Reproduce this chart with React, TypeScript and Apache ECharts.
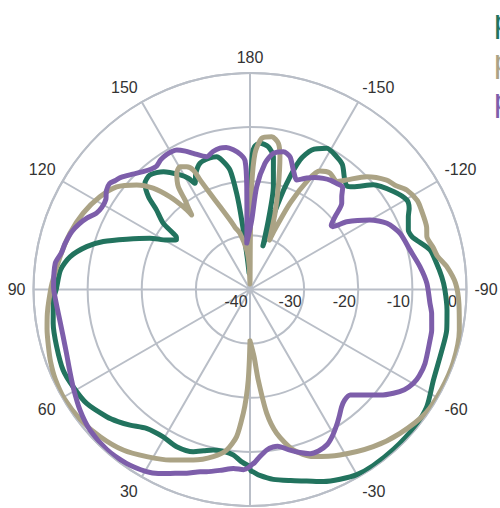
import React, { useEffect, useRef } from 'react';
import * as echarts from 'echarts';

const seriesNames = ['phi = 0°', 'phi = 45°', 'phi = 90°'];
const seriesColors = ['#22735e', '#aba385', '#7d5eaa'];

const angleTicks = [-90, -60, -30, 0, 30, 60, 90, 120, 150, 180, 210, 240, 270];
const radiusTicks = [-40, -30, -20, -10, 0];

// Series 1 (green): angle in degrees, gain in dB
const greenAngles = [0.3, 3, 5.8, 9, 12.9, 16, 19.3, 25, 30.5, 36.7, 41.5, 45, 48.4, 55.1, 61.2, 66.7, 73.5, 80.2, 86.9, 90, 95.9, 100.3, 104.7, 108.1, 112.2, 117.1, 120.7, 124, 125.5, 126.2, 127.4, 130.4, 132.4, 135.3, 138.9, 143.7, 148.6, 151, 152.6, 155, 158.4, 163, 165.9, 167.7, 170.5, 172.1, 173.2, 175, 176.8, 178.5, 180, -179, -178.2, -176.1, -172.7, -170, -167.2, -165.2, -163.5, -162.3, -161, -158.9, -156.1, -151.5, -146.9, -143.5, -139.5, -136.8, -134.9, -130.3, -124.3, -119.7, -117, -114.7, -110.6, -108, -106.5, -102.4, -98, -93.8, -90, -84, -78.4, -72, -63.7, -56.4, -50, -42, -35, -30, -25.4, -21, -16.5, -12, -7, -3, -1, -0.3, 0.3];
const greenDb = [-7.4, -8.2, -9.3, -9.7, -9.6, -9.0, -8.25, -7.95, -8.4, -8.0, -6.55, -5.5, -4.6, -3.2, -2.7, -2.4, -2.75, -3.1, -3.6, -4.2, -4.8, -6.2, -8.8, -11.5, -15.4, -19.2, -22.1, -23.6, -23.3, -22.4, -19.8, -17.3, -14.6, -12.4, -11.9, -13.0, -15.2, -16.5, -17.9, -16.3, -14.9, -14.6, -14.7, -15.5, -17.6, -22.1, -27.1, -34, -37, -30, -22, -15, -13.6, -12.9, -13.4, -15.1, -20.5, -26.7, -31.6, -25, -19.5, -14.35, -11.8, -10.3, -10.7, -11.3, -13.1, -13.8, -13.1, -10.1, -7.9, -6.65, -7.0, -7.8, -8.75, -8.5, -7.9, -5.95, -5.2, -4.5, -4.0, -3.4, -2.9, -2.8, -2.2, -0.8, -0.4, -0.3, -0.3, -0.5, -1.2, -2.0, -3.1, -3.9, -4.65, -5.6, -6.3, -6.5, -7.4];

// Series 2 (khaki)
const khakiAngles = [0, 0.5, 1.1, 2, 3.1, 5.2, 8.3, 12.4, 18.4, 25.1, 31.7, 38.3, 45.5, 52.5, 59.4, 65.3, 70, 74.2, 79, 83.3, 87, 91.8, 99.8, 107.3, 114.6, 121.7, 127.6, 132.7, 136.3, 139.2, 141.1, 142, 143, 144, 145.1, 147.8, 150.3, 152.7, 154.6, 155.5, 157.4, 160.1, 163.9, 166.5, 169.9, 175.2, 178, 179.5, -179.6, -179.1, -177.9, -175.6, -171.9, -169, -167.3, -164.6, -161.8, -159.5, -158.5, -157.5, -155.1, -152, -149.5, -145.5, -141.2, -138.6, -134, -128.7, -125.7, -122.4, -118, -115, -109.4, -106.6, -103, -100, -96.6, -91.7, -86, -79, -70.3, -62.5, -55, -46.2, -38.1, -28.5, -20.7, -15.1, -10.5, -7.7, -5.2, -3.5, -1.5, 0];
const khakiDb = [-30.5, -27, -23.3, -20, -17.1, -12.7, -10.0, -8.4, -6.8, -5.2, -3.7, -2.2, -1.2, -0.5, -0.2, -0.4, -0.8, -1.3, -1.8, -2.3, -2.8, -3.4, -4.4, -5.15, -6.1, -7.4, -8.9, -11.5, -14.1, -17.4, -20.4, -22.5, -21, -19.6, -16.85, -14.6, -13.9, -14.5, -15.6, -17.75, -20.75, -23.7, -26.6, -28.2, -29.45, -32.7, -35.5, -39, -30, -21, -14.8, -12.0, -11.5, -12.5, -14.85, -20.3, -25.2, -29, -30.2, -28, -22.4, -17, -14.6, -13.9, -14.4, -13.0, -10.0, -7.65, -7.0, -5.7, -5.0, -5.1, -5.4, -5.9, -5.3, -4.8, -3.4, -2.0, -1.3, -0.6, -0.1, -0.1, -0.3, -1.6, -3.1, -5.2, -7.0, -9.3, -13, -16.9, -23.2, -27.5, -29.5, -30.5];

// Series 3 (purple)
const purpleAngles = [0, 2, 5.3, 9, 13.4, 15.3, 19, 23.5, 26.5, 29.6, 35.4, 41.8, 48.7, 54.7, 61.2, 66, 70.8, 76, 80.9, 86, 90.8, 97.7, 101, 104, 108, 111, 113.6, 116.4, 119, 122, 124.5, 127, 129, 131, 134.5, 137.8, 140.5, 142.8, 145.5, 148.3, 150.5, 152.3, 155, 157.4, 161.9, 165, 168, 170.5, 173.2, 176, 177.8, 178.2, 177.2, 176, -178.6, -176.3, -173.2, -170.3, -166.4, -163.2, -160.1, -156.9, -155, -153, -150, -146.6, -143.5, -140.8, -137.8, -135.3, -133.2, -130.6, -128.2, -127.2, -125, -120.1, -115.8, -110.5, -103.9, -97.6, -92, -85.6, -82.5, -77.4, -74.3, -67.1, -63, -60.1, -57, -54.1, -51, -47.9, -43.5, -40.5, -38, -35.5, -32.9, -29.5, -26.5, -23, -20.1, -17, -14, -10, -8.4, -6, -3.4, -1.5, -0.5, 0];
const purpleDb = [-7.3, -6.7, -6.8, -6.2, -5.4, -5.1, -4.1, -2.95, -2.0, -1.3, -0.6, -0.3, -0.65, -1.5, -2.7, -3.5, -4.1, -4.4, -4.4, -4.1, -3.7, -3.7, -4.5, -4.8, -5.4, -6.2, -7.1, -8.3, -8.7, -8.6, -7.8, -7.5, -8.0, -8.4, -9.6, -10.6, -11.2, -11.4, -10.9, -10.7, -10.7, -10.9, -11.8, -12.75, -14.2, -13.6, -13.3, -13.4, -14.0, -15.0, -16.2, -21, -28.4, -31.4, -27.2, -21, -16.5, -14.5, -13.8, -14.4, -16.5, -18, -17.5, -16.9, -16.1, -15.4, -14.9, -14.7, -14.5, -15.9, -16.75, -19.3, -20.9, -20.8, -18.2, -14.4, -11.9, -10.4, -9.55, -8.3, -7.3, -6.65, -6.15, -5.6, -5.45, -4.9, -4.9, -5.2, -6.0, -7.3, -9.0, -10.9, -13.1, -13.1, -12.5, -11.5, -10.4, -9.0, -8.0, -7.6, -7.7, -8.5, -9.4, -10.6, -10.6, -10.2, -9.1, -8.0, -7.6, -7.3];

const gridColor = '#b9bec7';
const textColor = '#333333';
const fontFamily = "'Liberation Sans', Arial, sans-serif";

function toData(angles: number[], db: number[]) {
  // angle axis runs from -90 to 270 (clockwise from the right)
  return angles.map((a, i) => [db[i], a < -90 ? a + 360 : a]);
}

export default function App() {
  const ref = useRef<HTMLDivElement>(null);
  useEffect(() => {
    if (!ref.current) return;
    const chart = echarts.init(ref.current, null, { renderer: 'svg' });
    const allData = [
      toData(greenAngles, greenDb),
      toData(khakiAngles, khakiDb),
      toData(purpleAngles, purpleDb),
    ];
    chart.setOption({
      animation: false,
      backgroundColor: '#ffffff',
      legend: {
        orient: 'vertical',
        left: 488,
        top: 5,
        padding: 0,
        itemWidth: 0,
        itemHeight: 0,
        itemGap: 7.5,
        selectedMode: false,
        textStyle: { fontSize: 32, fontFamily },
        data: seriesNames.map((n, i) => ({ name: n, textStyle: { color: seriesColors[i] } })),
      },
      polar: { center: [250, 289.5], radius: 216.5 },
      angleAxis: {
        type: 'value',
        min: angleTicks[0],
        max: angleTicks[angleTicks.length - 1],
        interval: 30,
        startAngle: 0,
        clockwise: true,
        axisLine: { show: true, lineStyle: { color: gridColor, width: 2 } },
        axisTick: { show: false },
        axisLabel: {
          color: textColor,
          fontSize: 16,
          fontFamily,
          margin: 8,
          formatter: (v: number) => (v >= 270 ? '' : String(v > 180 ? v - 360 : v)),
        },
        splitLine: { show: true, lineStyle: { color: gridColor, width: 2 } },
      },
      radiusAxis: {
        type: 'value',
        min: radiusTicks[0],
        max: radiusTicks[radiusTicks.length - 1],
        interval: 10,
        axisLine: { show: false },
        axisTick: { show: false },
        axisLabel: {
          padding: [0, 28, 0, 0],
          margin: -4,
          verticalAlign: 'top',
          color: textColor,
          fontSize: 16,
          fontFamily,
        },
        splitLine: { show: true, lineStyle: { color: gridColor, width: 2 } },
      },
      series: allData.map((d, i) => ({
        name: seriesNames[i],
        type: 'line',
        coordinateSystem: 'polar',
        data: d,
        showSymbol: false,
        symbol: 'none',
        smooth: 0.25,
        color: seriesColors[i],
        lineStyle: { color: seriesColors[i], width: 5, cap: 'round', join: 'round' },
        z: 2 + i,
      })),
    });
    return () => chart.dispose();
  }, []);
  return <div ref={ref} style={{ position: 'fixed', left: 0, top: 0, width: 500, height: 508 }} />;
}
